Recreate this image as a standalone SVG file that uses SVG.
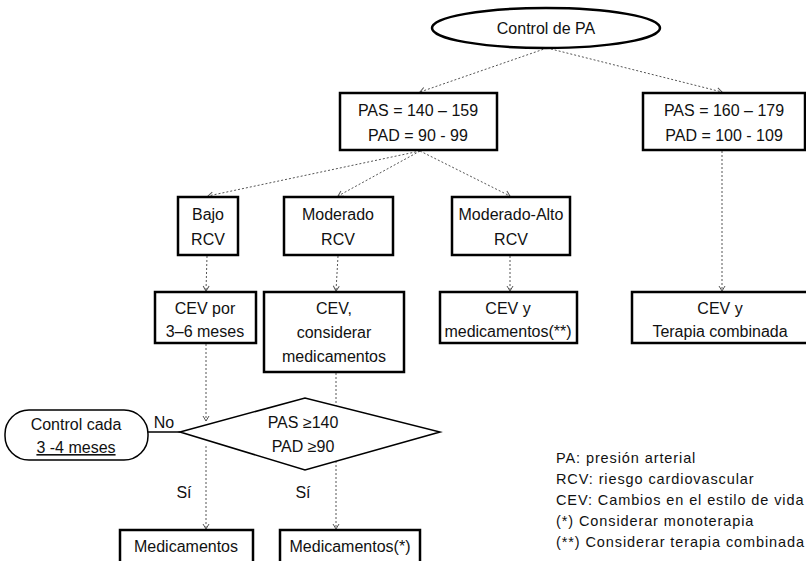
<svg xmlns="http://www.w3.org/2000/svg" width="806" height="561" viewBox="0 0 806 561">
<defs>
<marker id="ah" markerWidth="8" markerHeight="8" refX="6" refY="4" orient="auto" markerUnits="userSpaceOnUse">
<path d="M1,1 L6,4 L1,7" fill="none" stroke="#555" stroke-width="1"/>
</marker>
<style>
.box{fill:#fff;stroke:#000;stroke-width:2.5}
.t{font-family:"Liberation Sans",Arial,sans-serif;font-size:16px;fill:#111;text-anchor:middle}
.lg{font-family:"Liberation Sans",Arial,sans-serif;font-size:14.5px;letter-spacing:0.9px;fill:#111}
.c{fill:none;stroke:#555;stroke-width:1;stroke-dasharray:2,2;marker-end:url(#ah)}
</style>
</defs>
<rect width="806" height="561" fill="#fff"/>
<g id="connectors">
<line class="c" x1="547" y1="48" x2="420" y2="92"/>
<line class="c" x1="547" y1="48" x2="722" y2="92"/>
<line class="c" x1="420" y1="151" x2="208" y2="196"/>
<line class="c" x1="420" y1="151" x2="338" y2="196"/>
<line class="c" x1="420" y1="151" x2="510" y2="196"/>
<line class="c" x1="722" y1="151" x2="722" y2="291"/>
<line class="c" x1="207" y1="256" x2="206" y2="291"/>
<line class="c" x1="338" y1="256" x2="336" y2="291"/>
<line class="c" x1="510" y1="256" x2="510" y2="291"/>
<line class="c" x1="206" y1="344" x2="206" y2="421" marker-end="none"/>
<line class="c" x1="336" y1="373" x2="336" y2="529"/>
<line class="c" x1="206" y1="446" x2="206" y2="529"/>
<line x1="180" y1="432" x2="148" y2="432" stroke="#000" stroke-width="1.5"/>
<text class="t" x="164" y="428">No</text>
<text class="t" x="184" y="498">Sí</text>
<text class="t" x="303" y="498">Sí</text>
</g>
<g id="n-control">
<ellipse cx="546" cy="28" rx="114" ry="20" class="box" stroke-width="2"/>
<text class="t" x="546" y="34">Control de PA</text>
</g>
<g id="n-pas1">
<rect class="box" x="340" y="93" width="157" height="57"/>
<text class="t" x="418" y="116">PAS = 140 – 159</text>
<text class="t" x="418" y="141">PAD =  90 - 99</text>
</g>
<g id="n-pas2">
<rect class="box" x="643" y="93" width="162" height="57"/>
<text class="t" x="724" y="116">PAS = 160 – 179</text>
<text class="t" x="724" y="141">PAD =  100 - 109</text>
</g>
<g id="n-bajo">
<rect class="box" x="178" y="197" width="60" height="58"/>
<text class="t" x="208" y="220">Bajo</text>
<text class="t" x="208" y="245">RCV</text>
</g>
<g id="n-moderado">
<rect class="box" x="284" y="197" width="109" height="58"/>
<text class="t" x="338" y="220">Moderado</text>
<text class="t" x="338" y="245">RCV</text>
</g>
<g id="n-modalto">
<rect class="box" x="452" y="197" width="118" height="58"/>
<text class="t" x="511" y="220">Moderado-Alto</text>
<text class="t" x="511" y="245">RCV</text>
</g>
<g id="n-cevpor">
<rect class="box" x="155" y="292" width="101" height="51"/>
<text class="t" x="205" y="314">CEV por</text>
<text class="t" x="205" y="337">3–6 meses</text>
</g>
<g id="n-cevcons">
<rect class="box" x="264" y="292" width="140" height="80"/>
<text class="t" x="334" y="314">CEV,</text>
<text class="t" x="334" y="338">considerar</text>
<text class="t" x="334" y="362">medicamentos</text>
</g>
<g id="n-cevmed">
<rect class="box" x="440" y="292" width="137" height="51"/>
<text class="t" x="508" y="314">CEV y</text>
<text class="t" x="508" y="337">medicamentos(**)</text>
</g>
<g id="n-cevter">
<rect class="box" x="632" y="292" width="176" height="51"/>
<text class="t" x="720" y="314">CEV y</text>
<text class="t" x="720" y="337">Terapia combinada</text>
</g>
<g id="n-decision">
<polygon points="180,432 305,398 440,432 305,470" fill="#fff" stroke="#000" stroke-width="1.5"/>
<text class="t" x="303" y="428">PAS ≥140</text>
<text class="t" x="303" y="452">PAD ≥90</text>
</g>
<g id="n-controlcada">
<rect x="5" y="410" width="143" height="50" rx="24" ry="24" fill="#fff" stroke="#000" stroke-width="1.5"/>
<text class="t" x="76" y="430">Control cada</text>
<text class="t" x="76" y="453" text-decoration="underline">3 -4 meses</text>
</g>
<g id="n-med1">
<rect class="box" x="120" y="530" width="133" height="34"/>
<text class="t" x="186" y="552">Medicamentos</text>
</g>
<g id="n-med2">
<rect class="box" x="280" y="530" width="140" height="34"/>
<text class="t" x="350" y="552">Medicamentos(*)</text>
</g>
<g id="legend">
<text class="lg" x="556" y="463">PA: presión arterial</text>
<text class="lg" x="556" y="484">RCV: riesgo cardiovascular</text>
<text class="lg" x="556" y="505">CEV: Cambios en el estilo de vida</text>
<text class="lg" x="556" y="526">(*) Considerar monoterapia</text>
<text class="lg" x="556" y="547">(**) Considerar terapia combinada</text>
</g>
</svg>
